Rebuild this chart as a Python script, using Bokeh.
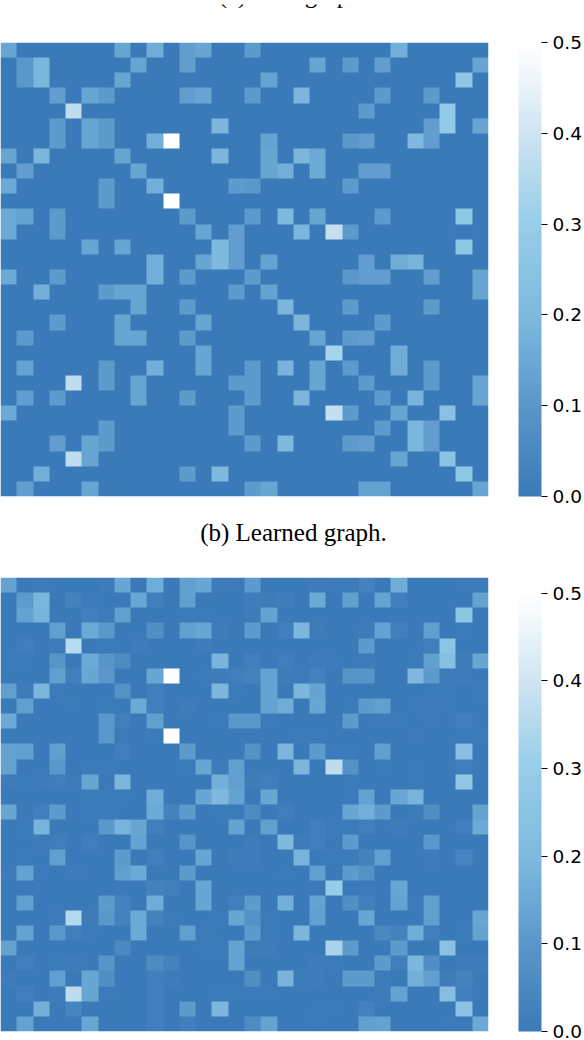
import numpy as np
from bokeh.plotting import figure
from bokeh.models import (LinearColorMapper, ColorBar, Range1d, FixedTicker, Label, Column,
                          PrintfTickFormatter)
from bokeh.embed import file_html
from bokeh.resources import INLINE

N = 30
CAPTION_A = "(a) True graph."
CAPTION_B = "(b) Learned graph."
TICKS = [0.0, 0.1, 0.2, 0.3, 0.4, 0.5]
MAX_A = 0.5
MAX_B = 0.518

# upper panel: row -> {column: weight}
ROWS_A = [
 {0:.14,7:.14,9:.16,11:.12,12:.14,15:.11,24:.17},
 {1:.10,2:.19,8:.14,11:.12,19:.14,21:.11,23:.12,29:.14},
 {1:.10,2:.19,7:.14,16:.13,28:.27},
 {3:.12,5:.14,6:.11,11:.12,12:.14,15:.11,18:.19,23:.11,26:.11},
 {4:.37,22:.11,27:.28},
 {3:.11,5:.14,6:.11,13:.19,26:.12,27:.28,29:.14},
 {3:.11,5:.14,6:.11,9:.17,10:.5,16:.13,21:.10,22:.12,25:.2,26:.12},
 {0:.14,2:.19,7:.14,13:.19,16:.14,18:.19,19:.15},
 {1:.12,8:.14,16:.14,17:.17,19:.15,22:.12,23:.12},
 {0:.15,6:.11,9:.17,14:.11,15:.10,21:.11},
 {6:.11,10:.5},
 {0:.15,1:.13,3:.11,11:.11,15:.11,17:.2,19:.14,23:.11,28:.27},
 {0:.15,3:.11,12:.14,14:.12,18:.19,20:.38,21:.11},
 {5:.14,7:.14,13:.2,14:.12,28:.27},
 {9:.17,12:.14,13:.2,14:.12,16:.13,22:.12,24:.16,25:.18},
 {0:.15,3:.11,9:.17,11:.11,15:.11,21:.10,22:.12,23:.12,26:.12,29:.14},
 {2:.17,6:.11,7:.14,8:.14,14:.11,16:.13,29:.14},
 {8:.14,11:.11,17:.19,21:.11,26:.11},
 {3:.11,7:.14,12:.14,18:.19,23:.11},
 {1:.11,7:.14,8:.14,11:.11,19:.14,21:.11,22:.12},
 {12:.14,20:.33,24:.16},
 {1:.13,6:.11,9:.17,12:.14,15:.11,17:.18,19:.14,21:.11,24:.16,26:.11},
 {4:.37,6:.11,8:.14,14:.11,15:.11,19:.14,22:.11,26:.11,29:.14},
 {1:.12,3:.11,8:.14,11:.11,15:.11,18:.19,23:.11,25:.18,29:.14},
 {0:.15,14:.11,20:.38,21:.11,24:.14,27:.24},
 {6:.11,14:.11,23:.11,25:.19,26:.12},
 {3:.12,5:.14,6:.11,15:.11,17:.2,21:.11,22:.12,25:.19,26:.12},
 {4:.37,5:.14,24:.14,27:.25},
 {2:.17,11:.11,13:.2,28:.27},
 {1:.12,5:.14,15:.11,16:.14,22:.13,23:.13,29:.14},
]

# lower panel: row -> {column: weight}
ROWS_B = [
 {0:.13,2:.01,6:.01,7:.14,9:.16,11:.12,12:.14,13:.01,14:.005,15:.11,19:.01,20:.005,21:.005,22:.03,24:.16,28:.01,29:.01},
 {1:.11,2:.19,4:.03,5:.005,8:.14,9:.02,11:.12,15:.015,16:.01,17:.015,19:.15,21:.12,23:.13,24:.02,29:.13},
 {1:.13,2:.18,5:.02,6:.01,7:.12,11:.005,12:.005,15:.01,16:.13,28:.26},
 {3:.12,5:.15,6:.10,9:.07,11:.12,12:.14,13:.01,15:.11,17:.02,18:.19,19:.01,22:.01,23:.13,24:.02,26:.12,28:.005},
 {1:.015,3:.01,4:.36,6:.005,8:.01,12:.01,22:.11,26:.02,27:.26},
 {0:.005,1:.005,3:.09,5:.15,6:.09,7:.06,13:.18,15:.02,17:.015,19:.01,20:.005,22:.01,25:.005,26:.12,27:.23,28:.01,29:.14},
 {3:.12,4:.02,5:.14,6:.10,9:.14,10:.49,12:.005,13:.01,14:.02,15:.03,16:.13,17:.01,18:.005,19:.03,21:.09,22:.09,25:.2,26:.11,27:.005,28:.01},
 {0:.12,1:.01,2:.19,3:.005,7:.08,9:.02,13:.19,14:.005,16:.13,18:.19,19:.13,26:.005,27:.005,29:.005},
 {1:.12,4:.005,6:.005,8:.15,9:.02,11:.01,16:.13,17:.16,19:.14,21:.005,22:.11,23:.12,25:.005,26:.01,27:.005},
 {0:.15,6:.10,7:.02,9:.12,13:.005,14:.10,15:.10,16:.005,21:.11,23:.01,24:.005,26:.01,28:.02},
 {6:.10,9:.005,10:.518,18:.005,19:.005,25:.01,28:.005,29:.005},
 {0:.13,1:.12,3:.12,7:.02,11:.11,15:.08,17:.19,19:.11,20:.005,21:.005,23:.12,28:.23},
 {0:.13,3:.10,5:.005,6:.005,11:.005,12:.14,13:.01,14:.12,18:.19,20:.37,21:.08,23:.005,25:.005,28:.02},
 {0:.01,1:.005,2:.01,3:.015,4:.005,5:.14,7:.19,13:.17,14:.12,15:.01,16:.015,21:.005,25:.005,28:.27},
 {5:.005,6:.005,7:.005,9:.16,12:.14,13:.2,14:.13,16:.14,21:.005,22:.13,24:.14,25:.18},
 {0:.14,2:.02,3:.11,5:.005,6:.005,9:.15,10:.03,11:.11,13:.005,14:.005,15:.06,17:.015,21:.14,22:.17,23:.11,25:.005,26:.07,29:.13},
 {1:.005,2:.18,6:.10,7:.18,8:.14,9:.02,14:.13,16:.12,19:.02,20:.005,21:.005,22:.02,24:.01,28:.02,29:.15},
 {2:.01,3:.015,5:.015,8:.13,11:.09,15:.01,17:.2,18:.01,19:.02,21:.11,26:.10},
 {1:.005,3:.12,7:.11,9:.02,12:.14,14:.01,15:.01,18:.18,20:.005,21:.005,22:.03,23:.12,26:.01,28:.04},
 {0:.01,1:.13,2:.005,4:.01,7:.12,8:.15,11:.11,17:.005,19:.12,21:.11,22:.08},
 {9:.03,10:.02,12:.14,20:.30,24:.14},
 {1:.12,6:.11,7:.03,9:.16,12:.14,14:.02,15:.11,17:.17,19:.13,21:.07,22:.02,24:.13,25:.005,26:.12},
 {3:.01,4:.35,5:.01,6:.10,7:.03,8:.15,9:.03,10:.005,13:.005,14:.14,15:.08,16:.005,19:.12,22:.14,26:.12,29:.14},
 {1:.13,3:.10,4:.02,5:.005,8:.15,11:.12,12:.005,15:.11,16:.005,18:.19,23:.05,24:.03,25:.16,26:.02,28:.005,29:.13},
 {0:.13,7:.05,12:.005,13:.005,14:.13,15:.01,16:.01,20:.33,21:.11,24:.11,27:.24},
 {1:.02,3:.005,4:.01,6:.09,9:.06,10:.03,14:.13,19:.01,20:.005,23:.11,24:.02,25:.19,26:.07,28:.01,29:.01},
 {0:.01,3:.12,5:.14,6:.07,9:.02,10:.01,15:.07,17:.18,18:.005,19:.01,21:.11,22:.11,23:.005,25:.17,26:.12,27:.01,28:.03},
 {1:.02,3:.01,4:.37,5:.14,6:.005,9:.02,13:.005,14:.005,15:.005,16:.005,23:.01,24:.13,27:.22,28:.02},
 {2:.17,4:.04,9:.02,11:.11,13:.19,19:.005,20:.005,22:.03,28:.25},
 {1:.13,5:.14,9:.02,11:.02,15:.06,16:.13,19:.005,22:.12,23:.13,27:.005,29:.15},
]

# colour ramp, value -> colour
ANCHORS = [(0.0, "#3a7ab8"), (0.1, "#5a97ca"), (0.15, "#6baad6"), (0.2, "#7fb9de"),
           (0.3, "#96cde8"), (0.35, "#b2d9ee"), (0.4, "#cfe4f1"), (0.45, "#e8f3f9"),
           (0.5, "#ffffff")]


def ramp(top, n=256):
    def rgb(h):
        return [int(h[i:i + 2], 16) for i in (1, 3, 5)]
    out = []
    for k in range(n):
        v = min(k / (n - 1) * top, 0.5)
        for (a, ca), (b, cb) in zip(ANCHORS, ANCHORS[1:]):
            if a <= v <= b:
                t = (v - a) / (b - a)
                c = [round(x + (y - x) * t) for x, y in zip(rgb(ca), rgb(cb))]
                out.append("#%02x%02x%02x" % tuple(c))
                break
    return out


def panel(rows, top, height, frame_h, border_top, border_bottom):
    mat = np.zeros((N, N))
    for r, row in enumerate(rows):
        for c, v in row.items():
            mat[r, c] = v
    mapper = LinearColorMapper(palette=ramp(top), low=0.0, high=top)
    p = figure(width=584, height=height, x_range=Range1d(0, N), y_range=Range1d(N, 0),
               output_backend="svg", toolbar_location=None,
               min_border_left=0, min_border_right=96,
               min_border_top=border_top, min_border_bottom=border_bottom)
    p.axis.visible = False
    p.grid.visible = False
    p.outline_line_color = None
    p.image(image=[mat], x=0, y=0, dw=N, dh=N, color_mapper=mapper)
    cb = ColorBar(color_mapper=mapper, ticker=FixedTicker(ticks=TICKS), width=23, height=frame_h,
                  padding=0, margin=0, location=(518, 0), bar_line_color=None,
                  major_tick_in=0, major_tick_out=6, major_tick_line_color="#000000",
                  major_tick_line_width=1, minor_tick_line_color=None, label_standoff=5,
                  formatter=PrintfTickFormatter(format="%.1f"),
                  major_label_text_font="DejaVu Sans", major_label_text_font_size="18.5px",
                  major_label_text_color="#000000")
    p.add_layout(cb, "center")
    return p


def caption(text, height, baseline):
    p = figure(width=584, height=height, x_range=Range1d(0, 488), y_range=Range1d(height, 0),
               output_backend="svg", toolbar_location=None,
               min_border_left=0, min_border_right=96, min_border_top=0, min_border_bottom=0)
    p.axis.visible = False
    p.grid.visible = False
    p.outline_line_color = None
    p.add_layout(Label(x=293, y=baseline, text=text, text_font="Liberation Serif",
                       text_font_size="25px", text_color="#000000", text_align="center",
                       text_baseline="alphabetic"))
    return p


# page y: caption 0..8, panel A 8..506 (heatmap 42..496), caption 506..552, panel B 552..1040
layout = Column(
    caption(CAPTION_A, 8, -10),
    panel(ROWS_A, MAX_A, 498, 454, 34, 10),
    caption(CAPTION_B, 46, 26),
    panel(ROWS_B, MAX_B, 488, 454, 25, 9),
    spacing=0, styles={"position": "absolute", "left": "0", "top": "0"})
open("out.html", "w").write(file_html(layout, INLINE))
